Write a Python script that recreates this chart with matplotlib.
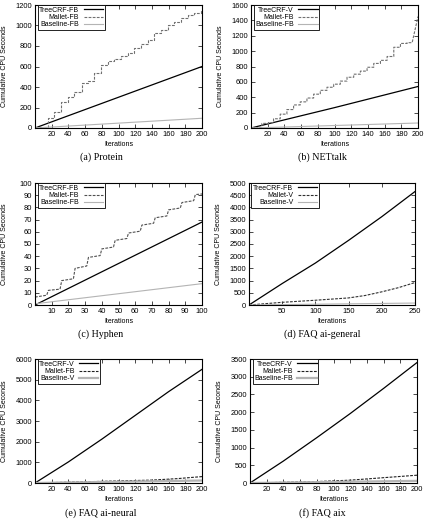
"""Cumulative CPU seconds per iteration: TreeCRF vs Mallet vs baseline, six datasets."""

import matplotlib

matplotlib.use("Agg")

import matplotlib.pyplot as plt

# (a) Protein
protein_tree_x = [0, 200]
protein_tree_y = [0, 600]
protein_mallet_steps = [0, 15, 23, 31, 39, 47, 56, 64, 71, 79, 87, 95, 103, 111,
                        119, 127, 135, 143, 151, 159, 167, 175, 183, 191, 199]
protein_mallet_levels = [10, 100, 160, 250, 300, 350, 440, 460, 540, 610, 650, 670,
                         700, 730, 785, 815, 860, 925, 960, 1005, 1030, 1070, 1100,
                         1125, 1140]
protein_base_x = [0, 200]
protein_base_y = [0, 95]

# (b) NETtalk
nettalk_tree_x = [0, 100, 200]
nettalk_tree_y = [0, 265, 540]
nettalk_mallet_steps = [0, 13, 21, 27, 35, 43, 51, 59, 67, 75, 83, 91, 99, 107, 115,
                        123, 131, 139, 147, 155, 163, 171, 179, 187]
nettalk_mallet_levels = [5, 60, 70, 120, 180, 240, 300, 340, 390, 440, 490, 530, 570,
                         610, 660, 700, 740, 790, 840, 880, 930, 1050, 1100, 1110]
nettalk_mallet_end_x = [193, 200]
nettalk_mallet_end_y = [1110, 1450]
nettalk_base_x = [0, 200]
nettalk_base_y = [0, 65]

# (c) Hyphen
hyphen_tree_x = [0, 100]
hyphen_tree_y = [0, 68]
hyphen_mallet_x = [0, 7, 8, 15, 16, 23, 24, 31, 32, 39, 40, 47, 48, 55, 56, 63, 64,
                   71, 72, 79, 80, 87, 88, 95, 96, 100]
hyphen_mallet_y = [6.5, 8, 12, 13, 20, 21.5, 30, 32, 39, 40.5, 46, 47.5, 53, 54.5,
                   59, 60.5, 65.5, 67, 71.5, 73, 78, 79.5, 84, 85.5, 90.5, 91]
hyphen_base_x = [0, 100]
hyphen_base_y = [1, 17.5]

# (d) FAQ ai-general
general_tree_x = [0, 50, 100, 150, 200, 250]
general_tree_y = [0, 880, 1720, 2650, 3620, 4650]
general_mallet_x = [0, 50, 100, 150, 175, 200, 225, 250]
general_mallet_y = [0, 110, 195, 290, 390, 540, 710, 920]
general_base_x = [0, 250]
general_base_y = [0, 80]

# (e) FAQ ai-neural
neural_tree_x = [0, 40, 80, 120, 160, 200]
neural_tree_y = [0, 1020, 2120, 3270, 4420, 5500]
neural_mallet_x = [0, 100, 140, 170, 200]
neural_mallet_y = [0, 100, 140, 210, 310]
neural_base_x = [0, 200]
neural_base_y = [0, 120]

# (f) FAQ aix
aix_tree_x = [0, 40, 80, 120, 160, 200]
aix_tree_y = [0, 620, 1280, 1960, 2670, 3400]
aix_mallet_x = [0, 80, 120, 160, 200]
aix_mallet_y = [0, 40, 80, 150, 220]
aix_base_x = [0, 200]
aix_base_y = [0, 60]

SANS = "Liberation Sans"
SERIF = "Liberation Serif"
FS = 5.0
TICK_FS = 5.4


def stairs(steps, levels):
    """Corner points of a staircase that jumps to levels[i] at steps[i]."""
    xs, ys = [steps[0]], [levels[0]]
    for x, prev, level in zip(steps[1:], levels[:-1], levels[1:]):
        xs += [x, x]
        ys += [prev, level]
    return xs, ys


def style_axes(ax, xmax, xticks, ymax, ystep):
    ax.set_xlim(0, xmax)
    ax.set_ylim(0, ymax)
    ax.set_xticks(xticks)
    ax.set_yticks(range(0, ymax + 1, ystep))
    ax.tick_params(direction="in", top=True, right=True, length=3, width=0.5,
                   labelsize=TICK_FS, pad=2)
    for label in ax.get_xticklabels() + ax.get_yticklabels():
        label.set_family(SANS)
    for spine in ax.spines.values():
        spine.set_linewidth(0.8)
    ax.set_xlabel("Iterations", fontsize=FS, family=SANS, labelpad=2.5)
    ax.set_ylabel("Cumulative CPU Seconds", fontsize=FS, family=SANS)
    # anchor is the right side of the rotated label
    ax.yaxis.set_label_coords(-0.16, 0.5)
    leg = ax.legend(loc="upper left", bbox_to_anchor=(0.015, 1.0), borderaxespad=0,
                    markerfirst=False, fancybox=False, framealpha=1,
                    edgecolor="black", prop={"family": SANS, "size": FS},
                    labelspacing=0.05, handlelength=2.8, handletextpad=0.6,
                    borderpad=0.25)
    leg.get_frame().set_linewidth(0.6)


def draw(ax, tree, mallet, base, labels, mallet_color, base_lw):
    ax.plot(*tree, color="black", lw=0.9, label=labels[0])
    ax.plot(*mallet, color=mallet_color, lw=0.8, ls=(0, (2.5, 1.2)), label=labels[1])
    ax.plot(*base, color="#b4b4b4", lw=base_lw, label=labels[2])


fig = plt.figure(figsize=(4.28, 5.2), dpi=100)
W, H = 428, 520


def add_axes(left, top, right, bottom):
    return fig.add_axes([left / W, 1 - bottom / H, (right - left) / W, (bottom - top) / H])


ax_a = add_axes(35, 5, 202, 128)
draw(ax_a, (protein_tree_x, protein_tree_y),
     stairs(protein_mallet_steps + [200], protein_mallet_levels + [1140]),
     (protein_base_x, protein_base_y),
     ["TreeCRF-FB", "Mallet-FB", "Baseline-FB"], "#707070", 0.8)
style_axes(ax_a, 200, range(20, 201, 20), 1200, 200)

ax_b = add_axes(251, 5, 418, 128)
nx, ny = stairs(nettalk_mallet_steps, nettalk_mallet_levels)
draw(ax_b, (nettalk_tree_x, nettalk_tree_y),
     (nx + nettalk_mallet_end_x, ny + nettalk_mallet_end_y),
     (nettalk_base_x, nettalk_base_y),
     ["TreeCRF-V", "Mallet-FB", "Baseline-FB"], "#707070", 0.8)
style_axes(ax_b, 200, range(20, 201, 20), 1600, 200)

ax_c = add_axes(35, 183, 202, 305)
draw(ax_c, (hyphen_tree_x, hyphen_tree_y), (hyphen_mallet_x, hyphen_mallet_y),
     (hyphen_base_x, hyphen_base_y),
     ["TreeCRF-FB", "Mallet-FB", "Baseline-FB"], "#505050", 0.8)
style_axes(ax_c, 100, range(10, 101, 10), 100, 10)

ax_d = add_axes(249, 183, 415, 305)
draw(ax_d, (general_tree_x, general_tree_y), (general_mallet_x, general_mallet_y),
     (general_base_x, general_base_y),
     ["TreeCRF-FB", "Mallet-V", "Baseline-V"], "#303030", 0.8)
style_axes(ax_d, 250, range(50, 251, 50), 5000, 500)

ax_e = add_axes(35, 359, 202, 483)
draw(ax_e, (neural_tree_x, neural_tree_y), (neural_mallet_x, neural_mallet_y),
     (neural_base_x, neural_base_y),
     ["TreeCRF-V", "Mallet-FB", "Baseline-V"], "#202020", 1.6)
style_axes(ax_e, 200, range(20, 201, 20), 6000, 1000)

ax_f = add_axes(250, 359, 417, 483)
draw(ax_f, (aix_tree_x, aix_tree_y), (aix_mallet_x, aix_mallet_y),
     (aix_base_x, aix_base_y),
     ["TreeCRF-V", "Mallet-FB", "Baseline-FB"], "#202020", 1.6)
style_axes(ax_f, 200, range(20, 201, 20), 3500, 500)

captions = [
    (101, 157, "(a) Protein"),
    (322, 157, "(b) NETtalk"),
    (101, 334, "(c) Hyphen"),
    (322, 334, "(d) FAQ ai-general"),
    (101, 513, "(e) FAQ ai-neural"),
    (322, 513, "(f) FAQ aix"),
]
for x, y, text in captions:
    fig.text(x / W, 1 - y / H, text, ha="center", va="center", fontsize=7.2,
             family=SERIF)

fig.savefig("out.png", dpi=100)
plt.close(fig)
